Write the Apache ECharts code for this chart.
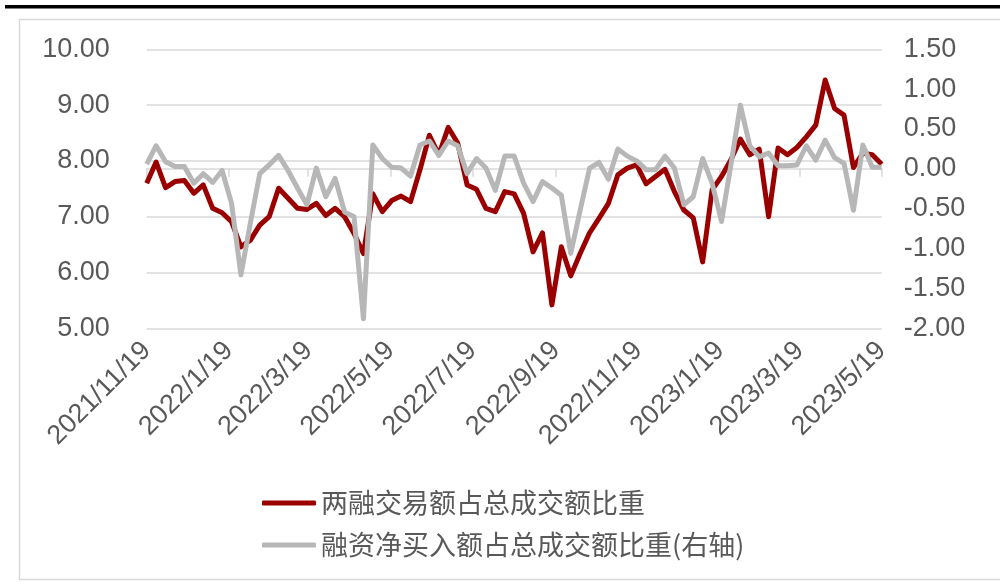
<!DOCTYPE html>
<html>
<head>
<meta charset="utf-8">
<script src="https://cdn.jsdelivr.net/npm/echarts@6/dist/echarts.min.js"></script>
<style>
  html, body { margin: 0; padding: 0; background: #fff; }
  #chart { width: 1000px; height: 585px; }
</style>
</head>
<body>
<div id="chart"></div>
<script>
// 周度数据起止日期
const firstDate = '2021/11/19'
const lastDate = '2023/5/19'
// x轴显示的刻度标签
const tickLabels = ['2021/11/19', '2022/1/19', '2022/3/19', '2022/5/19', '2022/7/19',
  '2022/9/19', '2022/11/19', '2023/1/19', '2023/3/19', '2023/5/19']

const seriesNames = ['两融交易额占总成交额比重', '融资净买入额占总成交额比重(右轴)']

// 两融交易额占总成交额比重 (左轴)
const marginTradeShare = [
  7.60, 7.98, 7.52, 7.63, 7.65, 7.42, 7.57, 7.15, 7.07, 6.91,
  6.46, 6.58, 6.85, 7.00, 7.51, 7.33, 7.15, 7.13, 7.24, 7.02,
  7.15, 7.00, 6.70, 6.34, 7.41, 7.09, 7.29, 7.37, 7.27, 7.84,
  8.46, 8.11, 8.60, 8.32, 7.57, 7.49, 7.15, 7.09, 7.45, 7.41,
  7.06, 6.37, 6.71, 5.42, 6.46, 5.94, 6.34, 6.71, 6.97, 7.24,
  7.75, 7.87, 7.93, 7.59, 7.72, 7.85, 7.45, 7.12, 6.98, 6.19,
  7.48, 7.72, 8.02, 8.39, 8.11, 8.21, 7.00, 8.23, 8.11, 8.24,
  8.43, 8.64, 9.45, 8.94, 8.82, 7.88, 8.14, 8.11, 7.94
]
// 融资净买入额占总成交额比重 (右轴)
const netBuyShare = [
  0.06, 0.29, 0.09, 0.03, 0.03, -0.18, -0.06, -0.17, -0.02, -0.43,
  -1.33, -0.68, -0.06, 0.05, 0.17, -0.02, -0.24, -0.45, 0.01, -0.35,
  -0.12, -0.54, -0.60, -1.88, 0.30, 0.13, 0.02, 0.01, -0.09, 0.30,
  0.35, 0.17, 0.35, 0.29, -0.06, 0.13, 0.01, -0.27, 0.16, 0.16,
  -0.18, -0.41, -0.16, -0.24, -0.33, -1.06, -0.52, 0.01, 0.08, -0.13,
  0.25, 0.16, 0.10, -0.01, -0.01, 0.16, 0.01, -0.45, -0.35, 0.13,
  -0.18, -0.66, 0.05, 0.80, 0.29, 0.15, 0.20, 0.04, 0.04, 0.05,
  0.29, 0.11, 0.36, 0.14, 0.07, -0.52, 0.30, 0.02, 0.02
]

const textColor = '#595959'
const lineGray = '#d9d9d9'
const numFont = '"Liberation Sans", Arial, sans-serif'
const cjkFont = '"Noto Sans CJK SC", sans-serif'

// 日期工具
function parseDate(s){
  const p = s.split('/').map(Number)
  return Date.UTC(p[0], p[1] - 1, p[2])
}
function fmtDate(t){
  const d = new Date(t)
  return d.getUTCFullYear() + '/' + (d.getUTCMonth() + 1) + '/' + d.getUTCDate()
}

// 日历轴：按天的类目
const DAY = 86400000
const dayCategories = []
for(let t = parseDate(firstDate); t <= parseDate(lastDate); t += DAY){
  dayCategories.push(fmtDate(t))
}
// 周度数据日期
const weekDates = marginTradeShare.map((v, i) => fmtDate(parseDate(firstDate) + i * 7 * DAY))

const showTick = (idx, value) => tickLabels.includes(value)

let chart = echarts.init(document.getElementById('chart'))
let option = {
  animation: false,
  color: ['#9b0000', '#b7b7b7'],
  graphic: [
    {
      type: 'rect', z: -10,
      shape: {x: 5, y: 5, width: 1000, height: 3.5},
      style: {fill: '#000'}
    },
    {
      type: 'rect', z: -10,
      shape: {x: 19.5, y: 19.5, width: 1000, height: 560},
      style: {fill: 'none', stroke: lineGray, lineWidth: 1.5}
    }
  ],
  legend: {
    orient: 'vertical',
    left: 257,
    top: 484,
    icon: 'roundRect',
    itemWidth: 54,
    itemHeight: 5,
    itemGap: 14,
    textStyle: {fontSize: 27, lineHeight: 28, color: textColor, fontFamily: cjkFont},
    data: seriesNames
  },
  grid: {left: 146.7, right: 118.3, top: 49.3, bottom: 256.7},
  xAxis: {
    type: 'category',
    data: dayCategories,
    boundaryGap: false,
    axisLine: {lineStyle: {color: lineGray, width: 1.5}},
    axisTick: {interval: showTick, length: 8, lineStyle: {color: lineGray, width: 1.5}},
    axisLabel: {
      interval: showTick,
      rotate: 45,
      margin: 18,
      fontSize: 27,
      color: textColor,
      fontFamily: numFont
    },
    splitLine: {show: false}
  },
  yAxis: [
    {
      type: 'value',
      min: 5, max: 10, interval: 1,
      axisLine: {show: false},
      axisTick: {show: false},
      axisLabel: {
        fontSize: 27, color: textColor, fontFamily: numFont, margin: 37,
        formatter: v => v.toFixed(2)
      },
      splitLine: {lineStyle: {color: lineGray, width: 1.5}}
    },
    {
      type: 'value',
      min: -2, max: 1.5, interval: 0.5,
      axisLine: {show: false},
      axisTick: {show: false},
      axisLabel: {
        fontSize: 27, color: textColor, fontFamily: numFont, margin: 22,
        formatter: v => v.toFixed(2)
      },
      splitLine: {show: false}
    }
  ],
  series: [
    {
      name: seriesNames[0],
      type: 'line',
      yAxisIndex: 0,
      showSymbol: false,
      symbol: 'none',
      lineStyle: {width: 5, color: '#9b0000', join: 'round'},
      data: weekDates.map((d, i) => [d, marginTradeShare[i]])
    },
    {
      name: seriesNames[1],
      type: 'line',
      yAxisIndex: 1,
      showSymbol: false,
      symbol: 'none',
      lineStyle: {width: 5, color: '#b7b7b7', join: 'round'},
      data: weekDates.map((d, i) => [d, netBuyShare[i]])
    }
  ]
}
chart.setOption(option)
window.addEventListener('resize', () => chart && chart.resize())
</script>
</body>
</html>
